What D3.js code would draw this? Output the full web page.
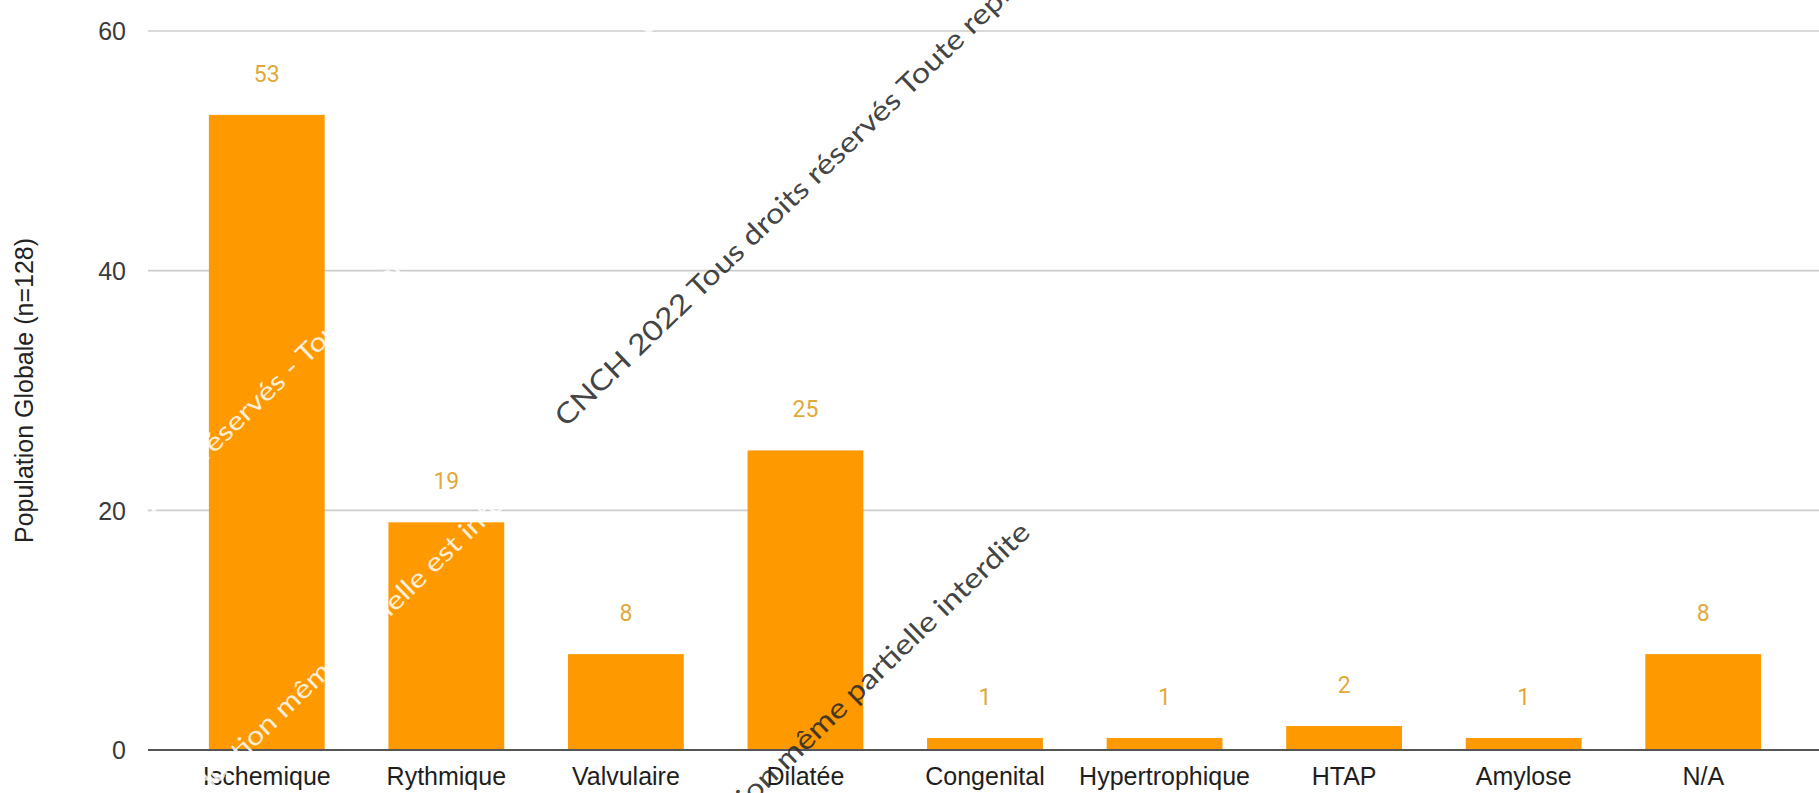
<!DOCTYPE html>
<html>
<head>
<meta charset="utf-8">
<script src="https://cdn.jsdelivr.net/npm/d3@7"></script>
<style>
  html, body { margin: 0; padding: 0; background: #fff; }
  svg { display: block; }
</style>
</head>
<body>
<svg id="chart" width="1819" height="793"></svg>
<script>
// ---- data ----
const categories = ["Ischemique", "Rythmique", "Valvulaire", "Dilatée", "Congenital", "Hypertrophique", "HTAP", "Amylose", "N/A"];
const values = [53, 19, 8, 25, 1, 1, 2, 1, 8];
const yTicks = [0, 20, 40, 60];
const yTitle = "Population Globale (n=128)";
const watermarkDark = "CNCH 2022 Tous droits réservés Toute reproduction même partielle interdite";
const watermarkLight = "CNCH 2022 Tous droits réservés - Toute reproduction même partielle est interdite";

// ---- layout ----
const W = 1819, H = 793;
const plot = { left: 148, right: 1819, top: 31, bottom: 750 };
const svg = d3.select("#chart");

const x = d3.scaleBand()
  .domain(categories)
  .range([177, 1793])
  .paddingInner(0.355)
  .paddingOuter(0.1775);

const y = d3.scaleLinear().domain([0, 60]).range([plot.bottom, plot.top]);

const font = "'Liberation Sans', Arial, sans-serif";

// gridlines
svg.append("g").selectAll("line")
  .data(yTicks.filter(d => d !== 0))
  .join("line")
  .attr("x1", plot.left).attr("x2", plot.right)
  .attr("y1", d => y(d)).attr("y2", d => y(d))
  .attr("stroke", "#cccccc").attr("stroke-width", 1.6);

// y tick labels via axis
const yAxis = d3.axisLeft(y).tickValues(yTicks).tickSize(0).tickPadding(0).tickFormat(d3.format("d"));
const gy = svg.append("g").attr("transform", `translate(126,0)`).call(yAxis);
gy.select(".domain").remove();
gy.selectAll("text")
  .attr("font-family", font).attr("font-size", 25).attr("fill", "#3a3a3a")
  .attr("dy", "0.35em");

// bars
svg.append("g").selectAll("rect")
  .data(values)
  .join("rect")
  .attr("x", (d, i) => x(categories[i]))
  .attr("width", x.bandwidth())
  .attr("y", d => y(d))
  .attr("height", d => y(0) - y(d))
  .attr("fill", "#ff9900");

// zero baseline
svg.append("line")
  .attr("x1", plot.left).attr("x2", plot.right)
  .attr("y1", y(0)).attr("y2", y(0))
  .attr("stroke", "#555").attr("stroke-width", 2);

// value labels
svg.append("g").selectAll("text")
  .data(values)
  .join("text")
  .attr("x", (d, i) => x(categories[i]) + x.bandwidth() / 2)
  .attr("y", d => y(d) - 33)
  .attr("text-anchor", "middle")
  .attr("font-family", "Roboto, 'Liberation Sans', sans-serif")
  .attr("font-size", 23)
  .attr("fill", "#e0a93a")
  .text(d => d);

// x axis labels
const xAxis = d3.axisBottom(x).tickSize(0).tickPadding(0);
const gx = svg.append("g").attr("transform", `translate(0,${y(0)})`).call(xAxis);
gx.select(".domain").remove();
gx.selectAll("text")
  .attr("font-family", font).attr("font-size", 25).attr("fill", "#1e1e1e")
  .attr("y", 35).attr("dy", 0);

// y title
svg.append("text")
  .attr("transform", `translate(33,${(plot.top + plot.bottom) / 2}) rotate(-90)`)
  .attr("text-anchor", "middle")
  .attr("font-family", font).attr("font-size", 25).attr("fill", "#222")
  .text(yTitle);

// watermarks
const ang = -44;
const wm = svg.append("g").attr("pointer-events", "none");
function mark(txt, px, py, anchor, len, color, size, opacity) {
  wm.append("text")
    .attr("transform", `translate(${px},${py}) rotate(${ang})`)
    .attr("text-anchor", anchor)
    .attr("font-family", "Lato, 'Open Sans', sans-serif")
    .attr("font-size", size)
    .attr("fill", color)
    .attr("fill-opacity", opacity)
    .attr("textLength", len)
    .attr("lengthAdjust", "spacingAndGlyphs")
    .text(txt);
}
mark(watermarkLight, -30, 690, "start", 1104, "#ffffff", 26, 0.85);
mark(watermarkLight, 551, 462, "end", 1104, "#ffffff", 26, 0.85);
mark(watermarkDark, 566, 428, "start", 1100, "#2b2b2b", 28, 0.9);
mark(watermarkDark, 1032, 534, "end", 1100, "#2b2b2b", 28, 0.9);
</script>
</body>
</html>
